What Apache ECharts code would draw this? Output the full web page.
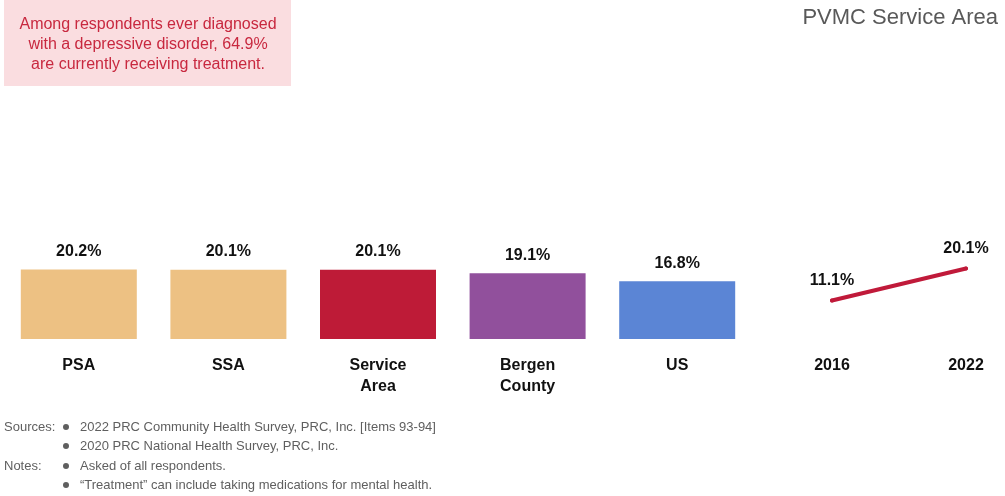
<!DOCTYPE html>
<html>
<head>
<meta charset="utf-8">
<script src="https://cdn.jsdelivr.net/npm/echarts@6/dist/echarts.min.js"></script>
<style>
html,body{margin:0;padding:0;background:#fff;}
#chart{width:1005px;height:496px;}
</style>
</head>
<body>
<div id="chart"></div>
<script>
// ---- data ----
const categories = ['PSA', 'SSA', 'Service\nArea', 'Bergen\nCounty', 'US'];
const barValues = [20.2, 20.1, 20.1, 19.1, 16.8];
const years = ['2016', '2022'];
const trendValues = [11.1, 20.1];
const titleText = 'PVMC Service Area';
const calloutLines = ['Among respondents ever diagnosed', 'with a depressive disorder, 64.9%', 'are currently receiving treatment.'];
const sourceLines = ['2022 PRC Community Health Survey, PRC, Inc. [Items 93-94]', '2020 PRC National Health Survey, PRC, Inc.'];
const noteLines = ['Asked of all respondents.', '\u201cTreatment\u201d can include taking medications for mental health.'];

// ---- styles ----
const barColors = ['#EDC183', '#EDC183', '#BE1B37', '#91509C', '#5B85D5'];
const lineColor = '#C01A3A';
const regular = "'Liberation Sans', Arial, sans-serif";
const noteColor = '#5F5F5F';

const chart = echarts.init(document.getElementById('chart'), null, {renderer: 'canvas'});

const graphic = [
  {type: 'rect', shape: {x: 4, y: 0, width: 287, height: 86}, style: {fill: '#FADDE0'}, z: 0},
  {type: 'text', x: 148, y: 45, style: {text: calloutLines.join('\n'), font: '16px ' + regular, lineHeight: 20, fill: '#C8283F', align: 'center', verticalAlign: 'middle'}},
  {type: 'text', x: 998, y: 18, style: {text: titleText, font: '22px ' + regular, fill: '#595959', align: 'right', verticalAlign: 'middle'}}
];
const noteRowsY = [427, 446, 466, 485];
const allNotes = [['Sources:', sourceLines[0]], ['', sourceLines[1]], ['Notes:', noteLines[0]], ['', noteLines[1]]];
allNotes.forEach((row, i) => {
  const y = noteRowsY[i];
  if (row[0]) graphic.push({type: 'text', x: 4, y: y, style: {text: row[0], font: '13px ' + regular, fill: noteColor, verticalAlign: 'middle'}});
  graphic.push({type: 'circle', shape: {cx: 66, cy: y, r: 3}, style: {fill: noteColor}});
  graphic.push({type: 'text', x: 80, y: y, style: {text: row[1], font: '13px ' + regular, fill: noteColor, verticalAlign: 'middle'}});
});

const labelFont = {fontFamily: regular, fontWeight: 'bold', fontSize: 16, color: '#111'};

chart.setOption({
  animation: false,
  backgroundColor: '#fff',
  graphic: graphic,
  grid: [
    {left: 4, width: 748, top: 253, bottom: 496 - 339, containLabel: false},
    {left: 832, width: 134, top: 251, bottom: 496 - 340, containLabel: false}
  ],
  xAxis: [
    {type: 'category', gridIndex: 0, data: categories, axisLine: {show: false}, axisTick: {show: false},
     axisLabel: Object.assign({margin: 16, lineHeight: 21, interval: 0}, labelFont)},
    {type: 'category', gridIndex: 1, data: years, boundaryGap: false, axisLine: {show: false}, axisTick: {show: false},
     axisLabel: Object.assign({margin: 15, lineHeight: 21, interval: 0}, labelFont)}
  ],
  yAxis: [
    {type: 'value', gridIndex: 0, min: 0, max: 25, show: false, splitLine: {show: false}},
    {type: 'value', gridIndex: 1, min: 0, max: 25, show: false, splitLine: {show: false}}
  ],
  series: [
    {type: 'bar', xAxisIndex: 0, yAxisIndex: 0, barWidth: 116,
     data: barValues.map((v, i) => ({value: v, itemStyle: {color: barColors[i]}})),
     label: Object.assign({show: true, position: 'top', distance: 10, formatter: p => p.value.toFixed(1) + '%'}, labelFont)},
    {type: 'line', xAxisIndex: 1, yAxisIndex: 1, data: trendValues,
     symbol: 'circle', symbolSize: 4, itemStyle: {color: lineColor},
     lineStyle: {color: lineColor, width: 4, cap: 'round'},
     label: Object.assign({show: true, position: 'top', distance: 10, formatter: p => p.value.toFixed(1) + '%'}, labelFont)}
  ]
});
</script>
</body>
</html>
